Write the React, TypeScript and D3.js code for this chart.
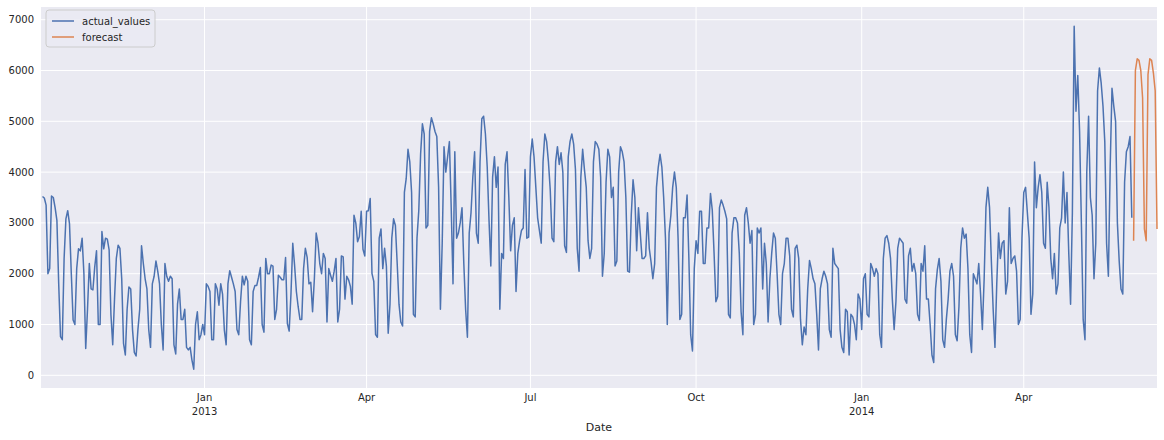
import React, { useEffect, useRef } from "react";
import * as d3 from "d3";

const START_DATE = new Date(2012, 9, 3); // first observation (daily)
const FORECAST_START = new Date(2014, 5, 1);

const actualValues: number[] = [
  3520, 3490, 3350, 2000, 2100, 3530, 3500, 3300, 3050, 1800,
  760, 700, 2300, 3080, 3240, 2980, 2000, 1090, 1000, 2100,
  2490, 2450, 2700, 2000, 530, 1300, 2200, 1700, 1680, 2130,
  2450, 1000, 1000, 2830, 2490, 2700, 2680, 2470, 1200, 600,
  1500, 2300, 2560, 2500, 1900, 630, 400, 1300, 1740, 1700,
  900, 450, 380, 900, 1300, 2550, 2200, 1900, 1700, 900,
  550, 1800, 1950, 2250, 2050, 1800, 1000, 500, 2200, 1950,
  1850, 1950, 1900, 600, 420, 1400, 1700, 1100, 1100, 1300,
  550, 500, 550, 300, 120, 1000, 1250, 700, 800, 1000,
  800, 1800, 1750, 1650, 700, 700, 1800, 1700, 1380, 1800,
  1600, 890, 600, 1800, 2060, 1930, 1800, 1650, 900, 800,
  1450, 1950, 1780, 1950, 1850, 700, 600, 1650, 1770, 1770,
  1930, 2120, 1000, 850, 2300, 2000, 2000, 2170, 2150, 1100,
  1300, 1970, 1930, 1880, 1880, 2320, 1020, 870, 1600, 2600,
  2170, 1650, 1350, 1100, 1100, 2100, 2500, 2320, 1800, 1830,
  1250, 1900, 2800, 2600, 2200, 2000, 2400, 2300, 1050, 2100,
  1970, 1850, 2050, 2300, 1050, 1300, 2350, 2330, 1500, 1950,
  1880, 1750, 1400, 3150, 3000, 2630, 2730, 3230, 2480, 2350,
  3230, 3240, 3480, 2000, 1850, 800, 750, 2700, 2880, 2100,
  2500, 2150, 830, 1400, 2700, 3080, 2950, 2200, 1400, 1050,
  970, 3600, 3870, 4450, 4200, 3600, 1200, 1150, 2700, 3250,
  4350, 4950, 4750, 2900, 2950, 4800, 5070, 4950, 4800, 4700,
  3700, 1300, 2600, 4500, 4000, 4300, 4600, 3300, 1800, 4400,
  2700, 2800, 3000, 3300, 2200, 1300, 750, 2800, 3200, 3900,
  4400, 2800, 2600, 4200, 5050, 5100, 4750, 4100, 3050, 2150,
  3900, 4300, 3700, 4100, 1300, 2400, 2300, 4150, 4400, 3500,
  2450, 2950, 3100, 1650, 2400, 2650, 2850, 2900, 4050, 2700,
  2720, 4300, 4650, 4300, 3700, 3100, 2850, 2600, 4200, 4750,
  4600, 4200, 3650, 2700, 2630, 4200, 4500, 4150, 4380, 4000,
  2550, 2420, 4300, 4600, 4750, 4550, 4050, 2500, 2050, 3900,
  4450, 4050, 3700, 2650, 2300, 2500, 4200, 4600, 4550, 4450,
  3900, 1950, 2400, 3800, 4450, 4300, 3500, 3700, 2150, 2250,
  4000, 4500, 4400, 4200, 3500, 2050, 2030, 3150, 3850, 3500,
  2450, 3300, 2800, 2300, 2300, 2350, 3200, 2500, 2230, 1900,
  2200, 3700, 4100, 4350, 4100, 3500, 2700, 1000, 2800, 3150,
  3700, 4000, 3700, 2700, 1100, 1200, 3100, 3100, 3550, 2300,
  800, 480, 2100, 2650, 2400, 3230, 3230, 2200, 2200, 2900,
  2900, 3580, 3250, 2400, 1450, 1550, 3300, 3450, 3350, 3230,
  3080, 1200, 1130, 2800, 3100, 3100, 3000, 2400, 1250, 800,
  3150, 3300, 3000, 2600, 2850, 1000, 1200, 2900, 2800, 2900,
  1700, 2600, 2200, 1050, 1900, 2400, 2800, 2700, 2000, 1200,
  1000, 2000, 2200, 2700, 2700, 2350, 1300, 1150, 2500, 2560,
  2300, 1100, 600, 950, 800, 1700, 2260, 2100, 1900, 1800,
  1200, 500, 1700, 1900, 2050, 1950, 1800, 900, 750, 2500,
  2200, 2150, 2100, 900, 550, 450, 1300, 1250, 400, 1200,
  1150, 1000, 700, 1600, 1500, 900, 1900, 2000, 1200, 1150,
  2200, 2100, 1950, 2100, 2000, 800, 550, 2300, 2700, 2750,
  2600, 2300, 1500, 900, 1450, 2500, 2700, 2650, 2600, 1500,
  1420, 2350, 2500, 2050, 2200, 2000, 1200, 1080, 2200, 2050,
  2550, 1500, 1500, 1000, 400, 250, 1700, 2080, 2300, 1850,
  700, 550, 1100, 1500, 2050, 2200, 1950, 800, 680, 1350,
  2500, 2900, 2700, 2780, 2100, 800, 450, 2000, 1900, 1800,
  2200, 1600, 900, 1900, 3300, 3700, 3300, 2250, 1300, 550,
  1800, 2800, 2300, 2600, 2650, 1600, 1850, 3300, 2200, 2300,
  2350, 2050, 1000, 1100, 2700, 3600, 3700, 3200, 2700, 1200,
  1600, 4200, 3300, 3700, 3950, 3600, 2600, 2500, 3800, 3300,
  2300, 1900, 2400, 1600, 1800, 2900, 3100, 4000, 3000, 3600,
  2400, 1400, 3200, 6870, 5200, 5900, 4800, 3000, 1100, 700,
  4000, 5100, 3500, 3150, 1900, 2600, 5600, 6050, 5750, 5300,
  4600, 2600, 1950, 4100, 5650, 5300, 5000, 3000, 2250, 1700,
  1600, 3800, 4400, 4500, 4700, 3100,
];

const forecastValues: number[] = [
  2650, 6000, 6230, 6200, 6000, 5460, 2880, 2650, 5920, 6230, 6200, 5950, 5600, 2880,
];

const yTicks: number[] = [0, 1000, 2000, 3000, 4000, 5000, 6000, 7000];
const xTickDates: Date[] = [
  new Date(2013, 0, 1), new Date(2013, 3, 1), new Date(2013, 6, 1),
  new Date(2013, 9, 1), new Date(2014, 0, 1), new Date(2014, 3, 1),
];
const xTickLabels: string[] = ["Jan", "Apr", "Jul", "Oct", "Jan", "Apr"];
const xTickYears: string[] = ["2013", "", "", "", "2014", ""];
const seriesNames: string[] = ["actual_values", "forecast"];
const seriesColors: string[] = ["#4C72B0", "#DD8452"];

const W = 1164;
const H = 440;
const M = { left: 42.5, right: 1157, top: 7, bottom: 388 };

export default function App() {
  const ref = useRef<SVGSVGElement>(null);

  useEffect(() => {
    document.body.style.margin = "0";
    const svg = d3.select(ref.current);
    svg.selectAll("*").remove();

    const actual = actualValues.map((v, i) => ({ date: d3.timeDay.offset(START_DATE, i), value: v }));
    const forecast = forecastValues.map((v, i) => ({ date: d3.timeDay.offset(FORECAST_START, i), value: v }));
    const lastDate = forecast[forecast.length - 1].date;

    const x = d3.scaleTime().domain([START_DATE, lastDate]).range([M.left, M.right]);
    const y = d3.scaleLinear().domain([-250, 7250]).range([M.bottom, M.top]);

    svg.append("rect")
      .attr("x", 41).attr("y", M.top)
      .attr("width", M.right - 41).attr("height", M.bottom - M.top)
      .attr("fill", "#EAEAF2");

    const grid = svg.append("g").attr("stroke", "#ffffff").attr("stroke-width", 1);
    yTicks.forEach((t) => {
      grid.append("line")
        .attr("x1", 41).attr("x2", M.right)
        .attr("y1", y(t)).attr("y2", y(t));
    });
    xTickDates.forEach((t) => {
      grid.append("line")
        .attr("x1", x(t)).attr("x2", x(t))
        .attr("y1", M.top).attr("y2", M.bottom);
    });

    const font = "DejaVu Sans, sans-serif";
    const tc = "#262626";

    yTicks.forEach((t) => {
      svg.append("text")
        .attr("x", 34).attr("y", y(t)).attr("dy", "0.35em")
        .attr("text-anchor", "end").attr("font-family", font).attr("font-size", 10)
        .attr("fill", tc).text(String(t));
    });
    xTickDates.forEach((t, i) => {
      svg.append("text")
        .attr("x", x(t)).attr("y", M.bottom + 13)
        .attr("text-anchor", "middle").attr("font-family", font).attr("font-size", 10)
        .attr("fill", tc).text(xTickLabels[i]);
      if (xTickYears[i]) {
        svg.append("text")
          .attr("x", x(t)).attr("y", M.bottom + 27)
          .attr("text-anchor", "middle").attr("font-family", font).attr("font-size", 10)
          .attr("fill", tc).text(xTickYears[i]);
      }
    });
    svg.append("text")
      .attr("x", (41 + M.right) / 2).attr("y", 431)
      .attr("text-anchor", "middle").attr("font-family", font).attr("font-size", 11)
      .attr("fill", tc).text("Date");

    const line = d3.line<{ date: Date; value: number }>()
      .x((d) => x(d.date)).y((d) => y(d.value));

    svg.append("path").datum(actual)
      .attr("d", line).attr("fill", "none")
      .attr("stroke", seriesColors[0]).attr("stroke-width", 1.5)
      .attr("stroke-linejoin", "round");
    svg.append("path").datum(forecast)
      .attr("d", line).attr("fill", "none")
      .attr("stroke", seriesColors[1]).attr("stroke-width", 1.5)
      .attr("stroke-linejoin", "round");

    const lg = svg.append("g");
    lg.append("rect")
      .attr("x", 46).attr("y", 10).attr("width", 109).attr("height", 37)
      .attr("rx", 3).attr("fill", "#EAEAF2").attr("fill-opacity", 0.8)
      .attr("stroke", "#cccccc").attr("stroke-width", 1);
    seriesNames.forEach((n, i) => {
      const yy = 21 + i * 16;
      lg.append("line")
        .attr("x1", 52).attr("x2", 74).attr("y1", yy).attr("y2", yy)
        .attr("stroke", seriesColors[i]).attr("stroke-width", 1.5);
      lg.append("text")
        .attr("x", 82).attr("y", yy).attr("dy", "0.35em")
        .attr("font-family", font).attr("font-size", 10)
        .attr("fill", tc).text(n);
    });
  }, []);

  return (
    <svg
      ref={ref}
      width={W}
      height={H}
      style={{ position: "absolute", left: 0, top: 0, display: "block", background: "#ffffff" }}
    />
  );
}
